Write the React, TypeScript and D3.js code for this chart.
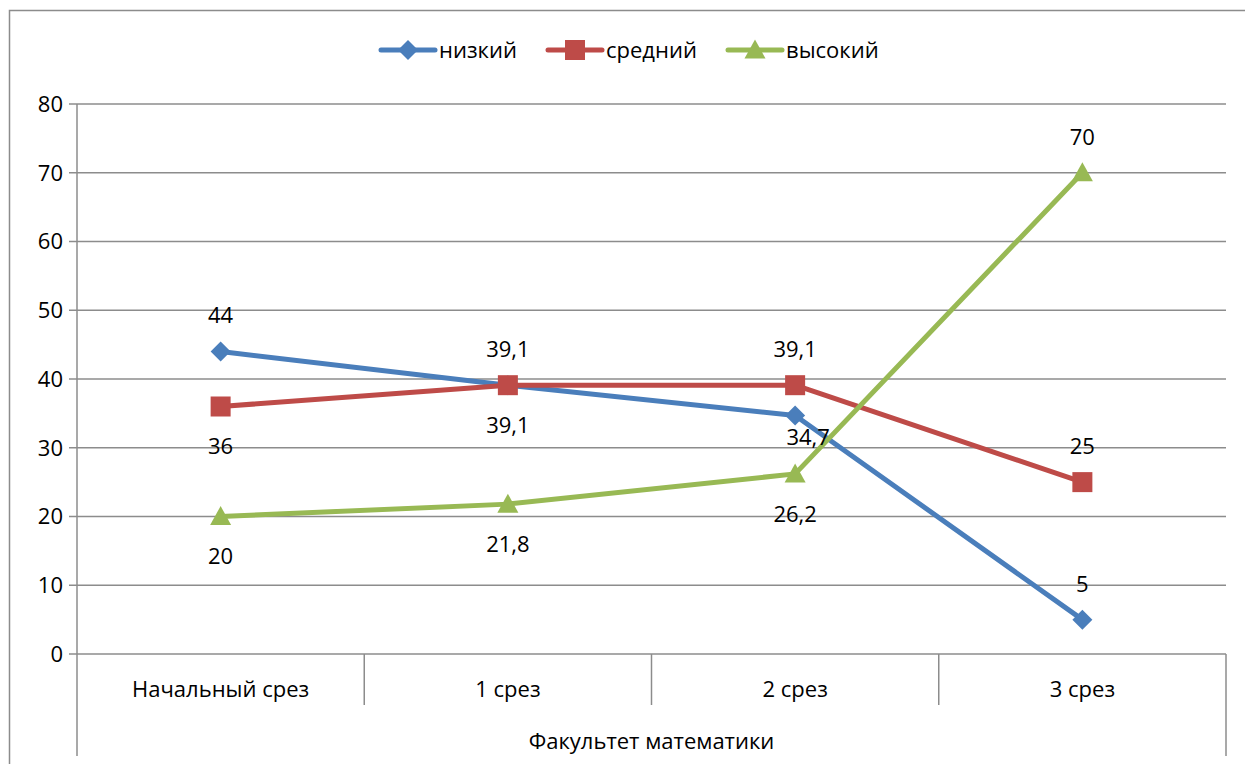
import React from "react";
import * as d3 from "d3";

const categories = ["Начальный срез", "1 срез", "2 срез", "3 срез"];
const seriesNames = ["низкий", "средний", "высокий"];
const lowValues = [44, 39.1, 34.7, 5];
const midValues = [36, 39.1, 39.1, 25];
const highValues = [20, 21.8, 26.2, 70];
const lowLabelPlacement = ["top", "top", "belowRight", "top"];
const midLabelPlacement = ["below", "below", "top", "top"];
const highLabelPlacement = ["below", "below", "below", "top"];
const yTicks = [0, 10, 20, 30, 40, 50, 60, 70, 80];
const axisTitle = "Факультет математики";

const colors = ["#4A7EBB", "#BE4B48", "#98B954"];
const markers = ["diamond", "square", "triangle"];
const FONT = "'Open Sans', 'Liberation Sans', sans-serif";
const FS = 22;

function Marker({ type, x, y, color }: { type: string; x: number; y: number; color: string }) {
  if (type === "diamond") {
    const s = 10;
    return <path d={`M${x},${y - s}L${x + s},${y}L${x},${y + s}L${x - s},${y}Z`} fill={color} />;
  }
  if (type === "square") {
    const s = 10;
    return <rect x={x - s} y={y - s} width={2 * s} height={2 * s} fill={color} />;
  }
  const hw = 10.5, h = 19;
  return <path d={`M${x},${y - h * 0.55}L${x + hw},${y + h * 0.45}L${x - hw},${y + h * 0.45}Z`} fill={color} />;
}

export default function App() {
  const W = 1245, H = 764;
  const left = 77, right = 1226, top = 104, bottom = 654;
  const x = d3.scaleBand<string>().domain(categories).range([left, right]);
  const y = d3.scaleLinear().domain([0, 80]).range([bottom, top]);
  const cx = (c: string) => (x(c) as number) + x.bandwidth() / 2;
  const series = [lowValues, midValues, highValues];
  const placements = [lowLabelPlacement, midLabelPlacement, highLabelPlacement];
  const line = d3.line<number>().x((_, i) => cx(categories[i])).y((d) => y(d));
  const fmt = (v: number) => String(v).replace(".", ",");
  const legendX = [381, 548, 728];

  return (
    <svg width={W} height={H} style={{ position: "absolute", left: 0, top: 0 }} fontFamily={FONT}>
      <rect x={0} y={0} width={W} height={H} fill="#fff" />
      <path d={`M9.5,${H}V10.5H${W}`} fill="none" stroke="#8c8c8c" strokeWidth={1.5} />
      {yTicks.map((t) => (
        <g key={t}>
          <line x1={69} x2={right} y1={y(t)} y2={y(t)} stroke="#8c8c8c" strokeWidth={1.5} />
          <text x={63} y={y(t)} dy="0.36em" textAnchor="end" fontSize={FS} fill="#000">{t}</text>
        </g>
      ))}
      <line x1={left} x2={left} y1={top} y2={756} stroke="#8c8c8c" strokeWidth={1.5} />
      <line x1={right} x2={right} y1={bottom} y2={756} stroke="#8c8c8c" strokeWidth={1.5} />
      {categories.slice(1).map((c) => (
        <line key={c} x1={x(c) as number} x2={x(c) as number} y1={bottom} y2={705} stroke="#8c8c8c" strokeWidth={1.5} />
      ))}
      {categories.map((c) => (
        <text key={c} x={cx(c)} y={689} dy="0.36em" textAnchor="middle" fontSize={FS}>{c}</text>
      ))}
      <text x={(left + right) / 2} y={741} dy="0.36em" textAnchor="middle" fontSize={FS}>{axisTitle}</text>
      {series.map((vals, si) => (
        <path key={si} d={line(vals) || ""} fill="none" stroke={colors[si]} strokeWidth={5} strokeLinejoin="round" />
      ))}
      {series.map((vals, si) =>
        vals.map((v, i) => <Marker key={`${si}-${i}`} type={markers[si]} x={cx(categories[i])} y={y(v)} color={colors[si]} />)
      )}
      {series.map((vals, si) =>
        vals.map((v, i) => {
          const p = placements[si][i];
          const px = cx(categories[i]);
          const py = y(v);
          let lx = px, ly = py - 36;
          if (p === "below") ly = py + 40;
          if (p === "belowRight") { lx = px + 13; ly = py + 22; }
          return (
            <text key={`l${si}-${i}`} x={lx} y={ly} dy="0.36em" textAnchor="middle" fontSize={FS}>{fmt(v)}</text>
          );
        })
      )}
      {seriesNames.map((n, i) => (
        <g key={n}>
          <line x1={legendX[i]} x2={legendX[i] + 54} y1={50} y2={50} stroke={colors[i]} strokeWidth={5} strokeLinecap="round" />
          <Marker type={markers[i]} x={legendX[i] + 27} y={50} color={colors[i]} />
          <text x={legendX[i] + 58} y={50} dy="0.36em" fontSize={FS}>{n}</text>
        </g>
      ))}
    </svg>
  );
}
